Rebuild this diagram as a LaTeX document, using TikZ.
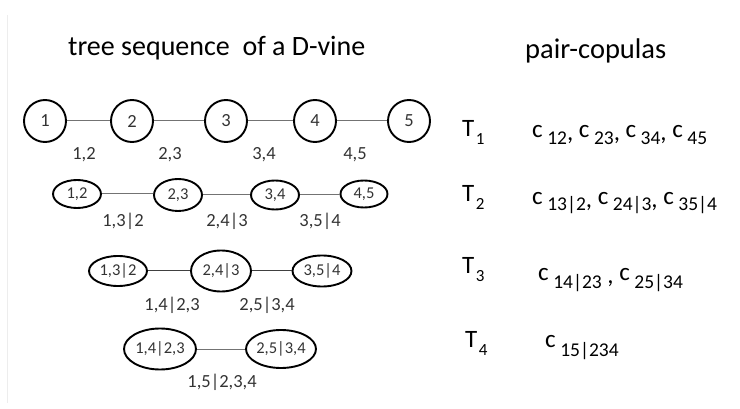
\documentclass[tikz,border=0pt]{standalone}
\usepackage{fontspec}
\setmainfont{Carlito}
\usetikzlibrary{shapes.geometric}
\newcommand\fsz[1]{\fontsize{#1}{#1}\selectfont}
\newcommand\cop[2]{c\hspace{4.5pt}\raisebox{-#1pt}{\fsz{19.5}#2}}
\newcommand\cm{\raisebox{-3pt}{,}}
\newcommand\tsub[1]{T\hspace{1.5pt}\raisebox{-8pt}{\fsz{17}#1}}
\begin{document}
\begin{tikzpicture}[x=1pt,y=-1pt,
  vnode/.style={draw=black, line width=1.9pt, inner sep=0pt, font=\fsz{16.5}, text=black!80},
  circ/.style={vnode, circle, minimum size=42pt, font=\fsz{18.5}},
  ell/.style={vnode, ellipse},
  conn/.style={draw=black!55, line width=1pt},
  elab/.style={anchor=base, inner sep=0pt, font=\fsz{18.5}, text=black!80},
  txt/.style={anchor=base west, inner sep=0pt, text=black},
  ]
\useasboundingbox (0,0) rectangle (740,409);
\draw[black!7, line width=0.8pt] (7,15) -- (7,403);

% titles
\node[txt, font=\fsz{28}] (title) at (68,56) {tree sequence\ \ of a D-vine};
\node[txt, font=\fsz{28.5}] (ptitle) at (525,59) {pair-copulas};

% tree 1
\node[circ] (a1) at (45,121) {1};
\node[circ] (a2) at (132,121) {2};
\node[circ] (a3) at (226,121) {3};
\node[circ] (a4) at (315,121) {4};
\node[circ] (a5) at (409,121) {5};
\draw[conn] (a1) -- (a2);
\draw[conn] (a2) -- (a3);
\draw[conn] (a3) -- (a4);
\draw[conn] (a4) -- (a5);
\node[elab] (l12) at (84,160) {1,2};
\node[elab] (l23) at (170,160) {2,3};
\node[elab] (l34) at (264,160) {3,4};
\node[elab] (l45) at (355,160) {4,5};

% tree 2
\node[ell, minimum width=48pt, minimum height=28pt] (b1) at (77,194) {1,2};
\node[ell, minimum width=48pt, minimum height=32pt] (b2) at (178,195) {2,3};
\node[ell, minimum width=48pt, minimum height=29pt] (b3) at (275,195) {3,4};
\node[ell, minimum width=47pt, minimum height=27pt] (b4) at (364,194) {4,5};
\draw[conn] (b1.east) -- (b1.east -| b2.west);
\draw[conn] (b2.east) -- (b2.east -| b3.west);
\draw[conn] (b3.east) -- (b3.east -| b4.west);
\node[elab] (l132) at (123,227) {1,3|2};
\node[elab] (l243) at (227,227) {2,4|3};
\node[elab] (l354) at (320,227) {3,5|4};

% tree 3
\node[ell, minimum width=58pt, minimum height=30pt] (c1) at (118,271) {1,3|2};
\node[ell, minimum width=60pt, minimum height=41pt] (c2) at (221,271) {2,4|3};
\node[ell, minimum width=59pt, minimum height=31pt] (c3) at (322,271) {3,5|4};
\draw[conn, draw=black!75] (c1) -- (c2);
\draw[conn, draw=black!75] (c2) -- (c3);
\node[elab] (l1423) at (172,310) {1,4|2,3};
\node[elab] (l2534) at (267,310) {2,5|3,4};

% tree 4
\node[ell, minimum width=72pt, minimum height=41pt] (d1) at (160,349) {1,4|2,3};
\node[ell, minimum width=70pt, minimum height=38pt] (d2) at (281,349) {2,5|3,4};
\draw[conn] (d1) -- (d2);
\node[elab] (l15234) at (222,387) {1,5|2,3,4};

% right column
\node[txt, font=\fsz{25}] (t1) at (462,137) {\tsub{1}};
\node[txt, font=\fsz{25}] (t2) at (462,202) {\tsub{2}};
\node[txt, font=\fsz{25}] (t3) at (462,273) {\tsub{3}};
\node[txt, font=\fsz{25}] (t4) at (465,348) {\tsub{4}};

\node[txt, font=\fsz{25}] (p1) at (532,138) {\cop{7}{12}\cm{} \cop{7}{23}\cm{} \cop{7}{34}\cm{} \cop{7}{45}};
\node[txt, font=\fsz{25}] (p2) at (532,205) {\cop{6}{13|2}\cm{} \cop{6}{24|3}\cm{} \cop{6}{35|4}};
\node[txt, font=\fsz{25}] (p3) at (538,280) {\cop{8}{14|23} \cm{} \cop{8}{25|34}};
\node[txt, font=\fsz{25}] (p4) at (545,348) {\cop{9}{15|234}};
\end{tikzpicture}
\end{document}
